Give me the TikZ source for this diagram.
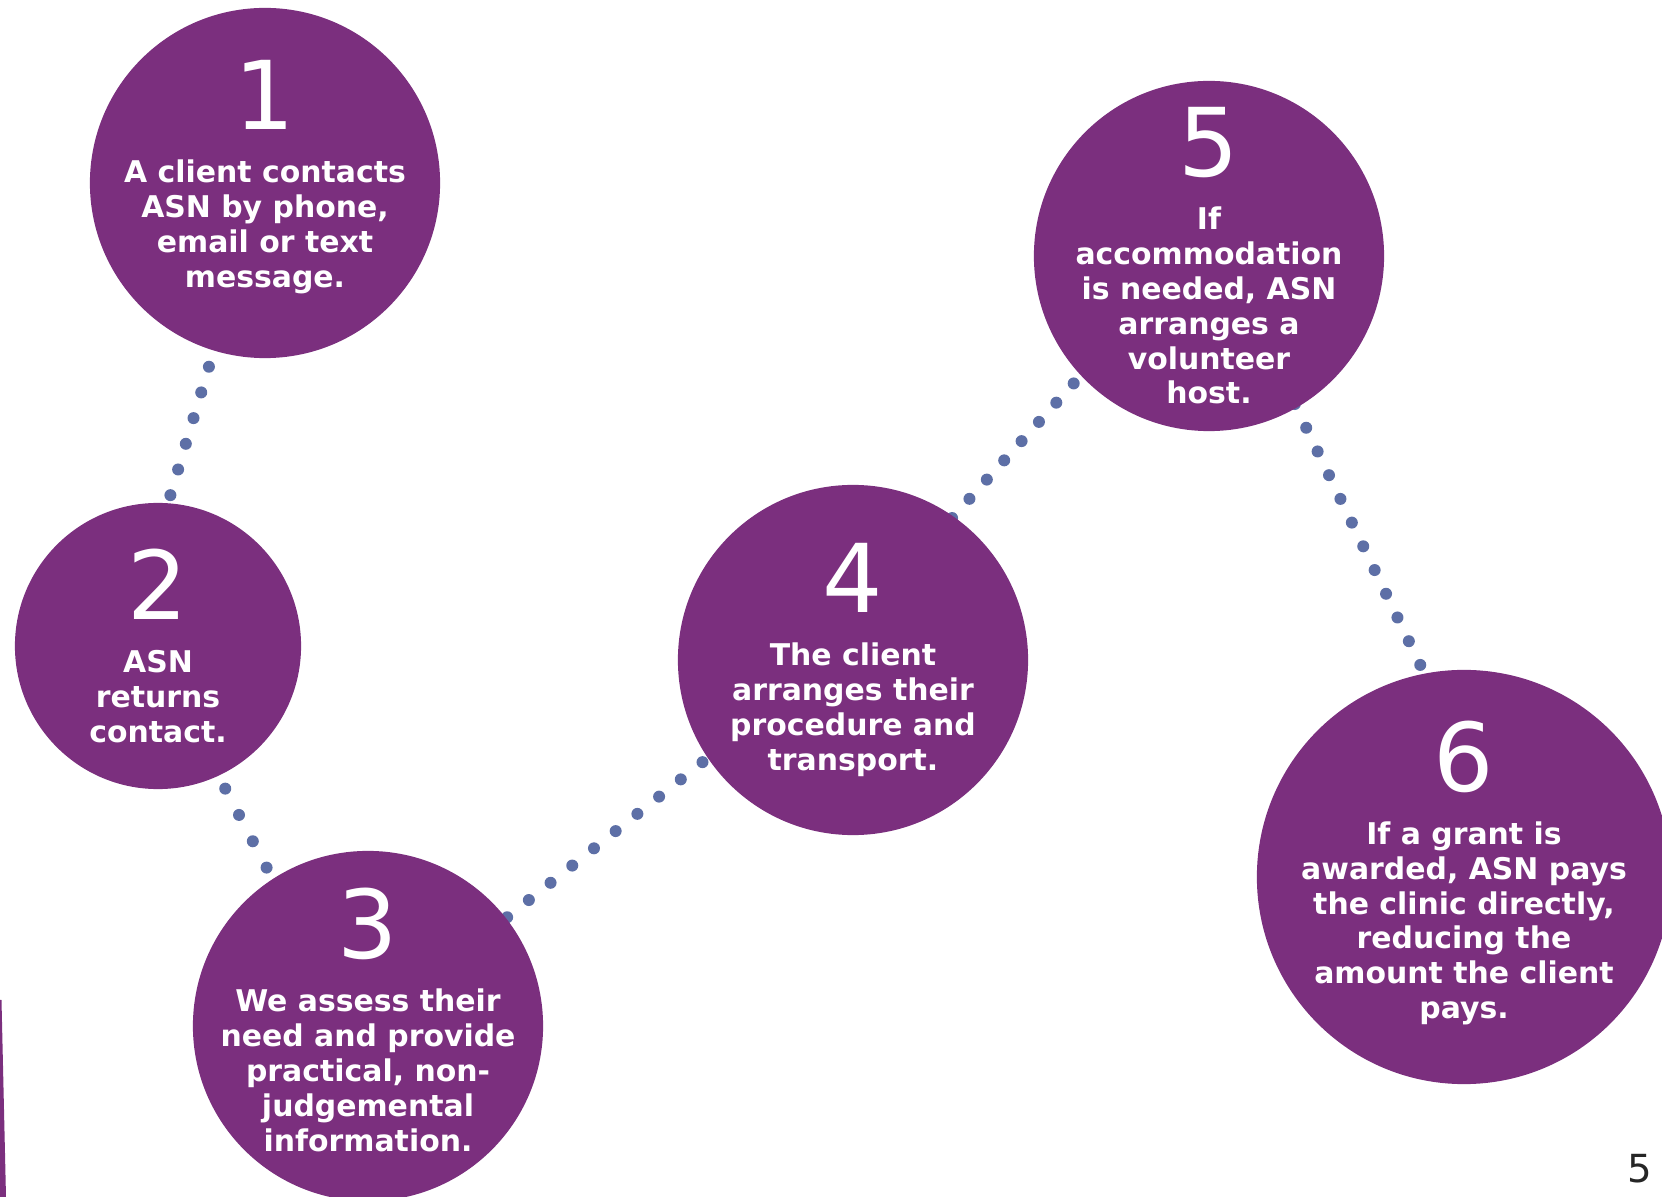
\documentclass[tikz,border=0pt]{standalone}
\usepackage{fontspec}
\usetikzlibrary{backgrounds}
\newfontfamily\verd{DejaVu Sans}
\newcommand{\stagefont}{\verd\bfseries\fontsize{8.5}{9.9}\selectfont}
\newcommand{\numfont}{\verd\mdseries\fontsize{27}{27}\selectfont}
\definecolor{asnpurple}{RGB}{123,47,126}
\definecolor{asndot}{RGB}{93,111,166}

\begin{document}
\begin{tikzpicture}[x=0.01cm,y=-0.01cm,
  stage/.style={circle,fill=asnpurple,inner sep=0pt,outer sep=0pt,minimum size=#1},
  stagetext/.style={text=white,align=center,inner sep=0pt,font=\stagefont},
  dotline/.style={asndot,line width=0.12cm,line cap=round,dash pattern=on 0cm off #1}]
 \useasboundingbox (0,0) rectangle (1662,1197);
 \clip (0,0) rectangle (1662,1197);

 % the six steps
 \foreach \n/\x/\y/\d in {1/265/183/3.5cm, 2/158/646/2.86cm, 3/368/1026/3.5cm,
                          4/853/660/3.5cm, 5/1209/256/3.5cm, 6/1464/877/4.14cm}
  {
    \node[stage=\d] (c\n) at (\x,\y) {};
  }

 \node[stagetext] (t1) at ([yshift=0.06cm]c1) {{\numfont 1}\\[5.2pt]A client contacts\\ASN by phone,\\email or text\\message.};
 \node[stagetext] (t2) at (c2) {{\numfont 2}\\[5.2pt]ASN\\returns\\contact.};
 \node[stagetext] (t3) at ([yshift=0.06cm]c3) {{\numfont 3}\\[5.2pt]We assess their\\need and provide\\practical, non-\\judgemental\\information.};
 \node[stagetext] (t4) at (c4) {{\numfont 4}\\[5.2pt]The client\\arranges their\\procedure and\\transport.};
 \node[stagetext] (t5) at (c5) {{\numfont 5}\\[5.2pt]If\\accommodation\\is needed, ASN\\arranges a\\volunteer\\host.};
 \node[stagetext] (t6) at ([yshift=0.04cm]c6) {{\numfont 6}\\[5.2pt]If a grant is\\awarded, ASN pays\\the clinic directly,\\reducing the\\amount the client\\pays.};

 % dotted trail behind the circles
 \begin{pgfonlayer}{background}
  \draw[dotline=0.268cm, shorten <=0.17cm, shorten >=0.07cm] (c1.-107) -- (c2.86);
  \draw[dotline=0.297cm, shorten <=0.146cm, shorten >=0.12cm] (c2.-65.8) -- (c3.123.8);
  \draw[dotline=0.277cm, shorten <=0.015cm, shorten >=0.06cm] (c3.38.2) -- (c4.214.5);
  \draw[dotline=0.259cm, shorten <=-0.02cm, shorten >=0.1cm] (c4.55.6) -- (c5.223.4);
  \draw[dotline=0.263cm, shorten <=-0.04cm, shorten >=0.08cm] (c5.-60.5) -- (c6.101.9);
 \end{pgfonlayer}

 % page edge and number
 \fill[asnpurple] (0,1000) -- (1.5,1000) -- (6,1197) -- (0,1197) -- cycle;
 \node[font=\verd\fontsize{11}{11}\selectfont,text=black!85] (pg) at (1640,1169) {5};
\end{tikzpicture}
\end{document}
